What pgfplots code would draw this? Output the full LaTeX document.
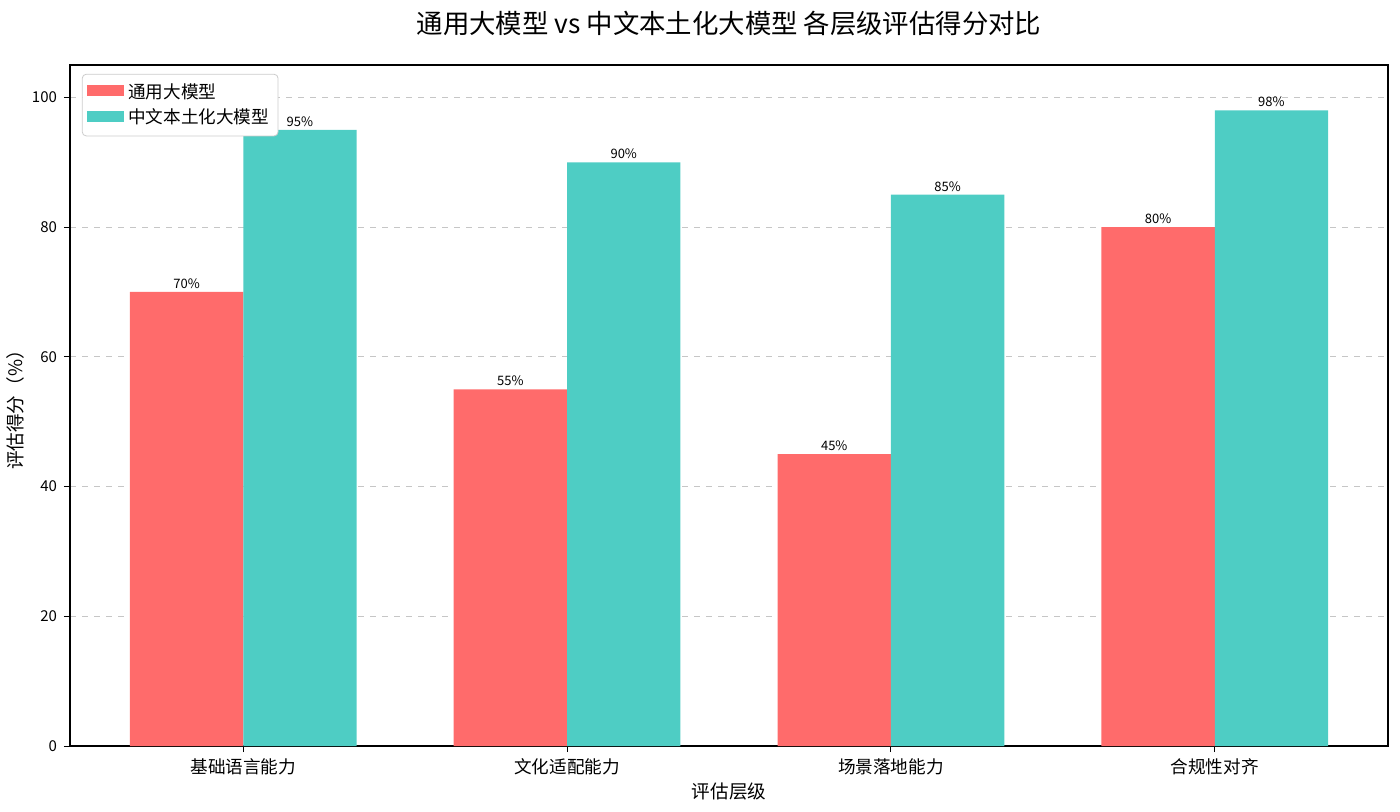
\documentclass[border=0pt]{standalone}
\usepackage{pgfplots}
\pgfplotsset{compat=1.18}
\usepackage{fontspec}
\setmainfont{Noto Sans CJK SC}
\definecolor{cred}{HTML}{FF6B6B}
\definecolor{cteal}{HTML}{4ECDC4}
\begin{document}
\begin{tikzpicture}
\begin{axis}[
  name=ax,
  scale only axis,
  width=659pt, height=340.5pt,
  ybar,
  bar width=0.35,
  xmin=-0.535, xmax=3.535,
  ymin=0, ymax=105,
  xtick={0,1,2,3},
  xticklabels={基础语言能力,文化适配能力,场景落地能力,合规性对齐},
  ytick={0,20,40,60,80,100},
  tick align=outside,
  tick style={black, line width=0.5pt},
  major tick length=3pt,
  xtick pos=bottom, ytick pos=left,
  ymajorgrids,
  grid style={dashed, gray!45, line width=0.4pt},
  axis line style={line width=0.6pt},
  yticklabel style={font=\fontsize{7.5pt}{9pt}\selectfont},
  xticklabel style={font=\fontsize{8.8pt}{10pt}\selectfont},
  /pgf/number format/assume math mode=true,
  xlabel={评估层级},
  ylabel={评估得分（\%）},
  label style={font=\fontsize{9.3pt}{11pt}\selectfont},
  xlabel style={yshift=3pt},
  ylabel style={yshift=-3pt},
  title={通用大模型 vs 中文本土化大模型 各层级评估得分对比},
  title style={font=\fontsize{13.2pt}{15pt}\selectfont, yshift=5pt},
  legend style={at={(0.009,0.987)}, anchor=north west, font=\fontsize{8.8pt}{10pt}\selectfont,
    draw=gray!40, rounded corners=2pt, row sep=0pt, inner sep=2.5pt},
  legend cell align=left,
  legend image code/.code={\fill[#1, sharp corners] (0pt,-2pt) rectangle (18.5pt,3.5pt);},
  nodes near coords={\pgfmathprintnumber{\pgfplotspointmeta}\%},
  nodes near coords style={font=\fontsize{6.5pt}{7.5pt}\selectfont, /pgf/number format/assume math mode=true, inner sep=1.5pt},
]
\addplot[bar shift=-0.175, fill=cred, draw=none] coordinates {(0,70) (1,55) (2,45) (3,80)};
\addlegendentry{通用大模型}
\addplot[bar shift=0.175, fill=cteal, draw=none] coordinates {(0,95) (1,90) (2,85) (3,98)};
\addlegendentry{中文本土化大模型}
\end{axis}
\pgfresetboundingbox
\path ([xshift=-35pt,yshift=-33pt]ax.south west) rectangle ([xshift=6pt,yshift=32.5pt]ax.north east);
\end{tikzpicture}
\end{document}
